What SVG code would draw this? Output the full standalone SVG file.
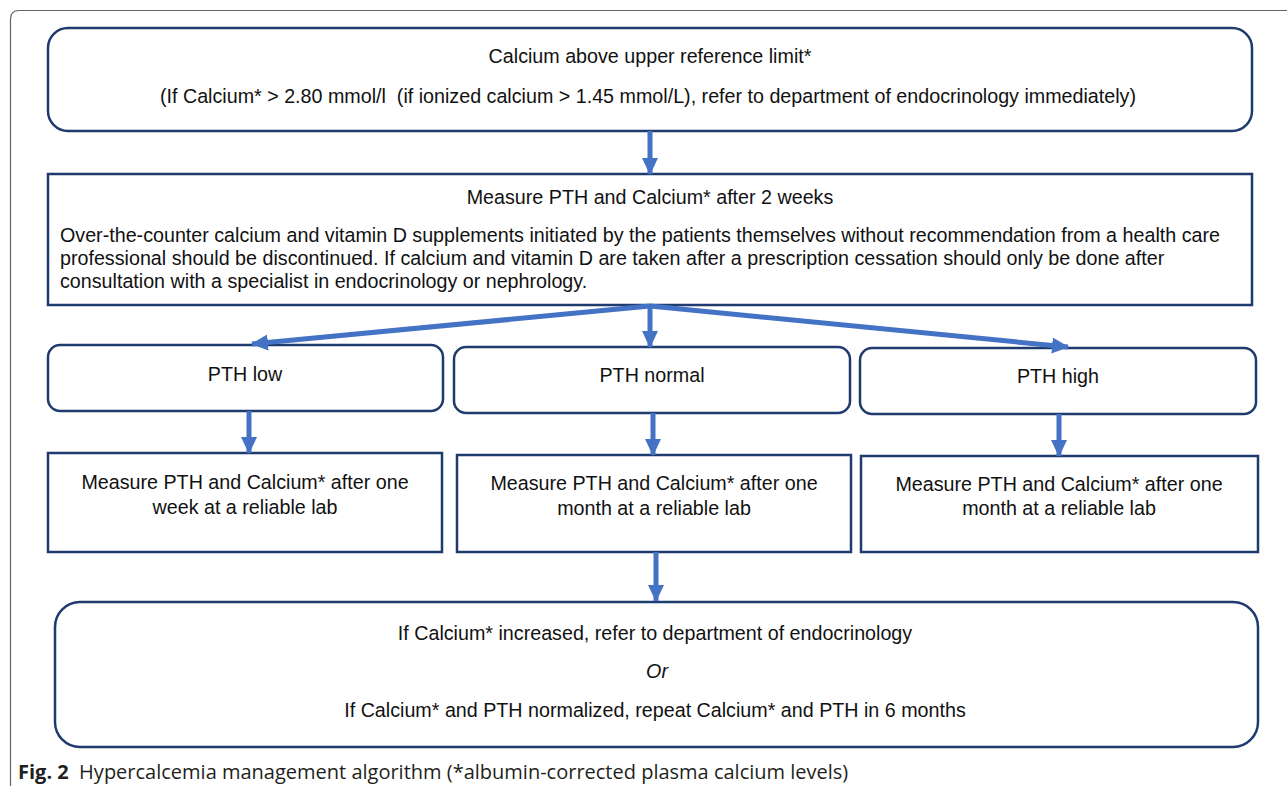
<svg xmlns="http://www.w3.org/2000/svg" width="1287" height="786" viewBox="0 0 1287 786">
<style>
.box{fill:#fff;stroke:#1f3b6e;stroke-width:2.5}
.t{font-family:"Liberation Sans",Arial,sans-serif;font-size:19.7px;fill:#111}
.c{text-anchor:middle}
.arr{stroke:#4472c4;stroke-width:5;fill:none}
.cap{font-family:"Open Sans",sans-serif;font-size:20px;fill:#231f20}
</style>
<defs>
<marker id="ah" markerUnits="userSpaceOnUse" markerWidth="18" markerHeight="18" viewBox="0 0 18 18" refX="16" refY="9" orient="auto">
<path d="M0,1 L17,9 L0,17 Z" fill="#4472c4"/>
</marker>
</defs>
<rect width="1287" height="786" fill="#fff"/>
<path d="M10.5,786 V19 Q10.5,10.5 19,10.5 H1287" fill="none" stroke="#666" stroke-width="1.2"/>

<g id="n1">
<rect class="box" x="48" y="28" width="1204" height="103" rx="20"/>
<text class="t c" x="650" y="63">Calcium above upper reference limit*</text>
<text class="t c" x="648" y="103" xml:space="preserve">(If Calcium* &gt; 2.80 mmol/l  (if ionized calcium &gt; 1.45 mmol/L), refer to department of endocrinology immediately)</text>
</g>
<g id="n2">
<rect class="box" x="48" y="174" width="1204" height="131"/>
<text class="t c" x="650" y="204">Measure PTH and Calcium* after 2 weeks</text>
<text class="t" x="60" y="242">Over-the-counter calcium and vitamin D supplements initiated by the patients themselves without recommendation from a health care</text>
<text class="t" x="60" y="265">professional should be discontinued. If calcium and vitamin D are taken after a prescription cessation should only be done after</text>
<text class="t" x="60" y="288">consultation with a specialist in endocrinology or nephrology.</text>
</g>
<g id="n3">
<rect class="box" x="48" y="345" width="395" height="66" rx="12"/>
<text class="t c" x="245" y="381">PTH low</text>
</g>
<g id="n4">
<rect class="box" x="454" y="347" width="396" height="66" rx="12"/>
<text class="t c" x="652" y="382">PTH normal</text>
</g>
<g id="n5">
<rect class="box" x="860" y="348" width="396" height="66" rx="12"/>
<text class="t c" x="1058" y="383">PTH high</text>
</g>
<g id="n6">
<rect class="box" x="48" y="453" width="394" height="99"/>
<text class="t c" x="245" y="489">Measure PTH and Calcium* after one</text>
<text class="t c" x="245" y="514">week at a reliable lab</text>
</g>
<g id="n7">
<rect class="box" x="457" y="455" width="394" height="97"/>
<text class="t c" x="654" y="490">Measure PTH and Calcium* after one</text>
<text class="t c" x="654" y="515">month at a reliable lab</text>
</g>
<g id="n8">
<rect class="box" x="861" y="456" width="397" height="96"/>
<text class="t c" x="1059" y="491">Measure PTH and Calcium* after one</text>
<text class="t c" x="1059" y="515">month at a reliable lab</text>
</g>
<g id="n9">
<rect class="box" x="55" y="602" width="1203" height="145" rx="25"/>
<text class="t c" x="655" y="640">If Calcium* increased, refer to department of endocrinology</text>
<text class="t c" x="657" y="678" font-style="italic">Or</text>
<text class="t c" x="655" y="717">If Calcium* and PTH normalized, repeat Calcium* and PTH in 6 months</text>
</g>

<g id="connectors">
<line class="arr" x1="650" y1="131" x2="650" y2="174" marker-end="url(#ah)"/>
<line class="arr" x1="650" y1="306" x2="252" y2="344" marker-end="url(#ah)"/>
<line class="arr" x1="650" y1="306" x2="650" y2="347" marker-end="url(#ah)"/>
<line class="arr" x1="650" y1="306" x2="1068" y2="347" marker-end="url(#ah)"/>
<line class="arr" x1="249" y1="411" x2="249" y2="453" marker-end="url(#ah)"/>
<line class="arr" x1="653" y1="413" x2="653" y2="455" marker-end="url(#ah)"/>
<line class="arr" x1="1059" y1="414" x2="1059" y2="456" marker-end="url(#ah)"/>
<line class="arr" x1="656" y1="552" x2="656" y2="601" marker-end="url(#ah)"/>
</g>

<text class="cap" x="18" y="779" xml:space="preserve"><tspan font-weight="bold">Fig. 2</tspan>  Hypercalcemia management algorithm (*albumin-corrected plasma calcium levels)</text>
</svg>
